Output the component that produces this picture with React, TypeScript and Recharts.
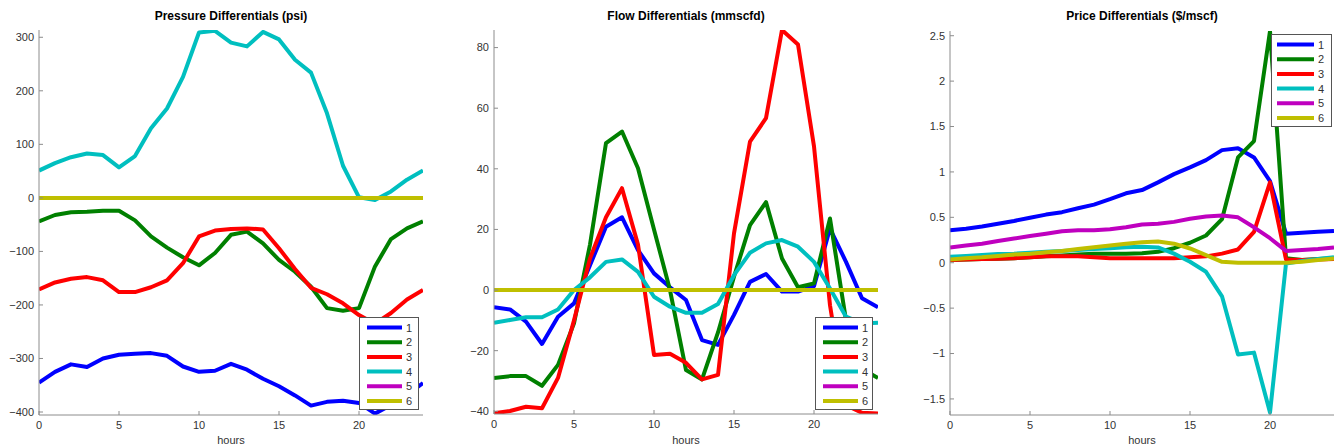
import React from 'react';
import { LineChart, Line, XAxis, YAxis } from 'recharts';

const hours = [0, 1, 2, 3, 4, 5, 6, 7, 8, 9, 10, 11, 12, 13, 14, 15, 16, 17, 18, 19, 20, 21, 22, 23, 24];
const seriesNames = ['1', '2', '3', '4', '5', '6'];
const seriesColors = ['#0000ff', '#008000', '#ff0000', '#00bfbf', '#bf00bf', '#bfbf00'];
const xTicks = [0, 5, 10, 15, 20];

// Pressure Differentials (psi)
const pressure1 = [-345, -325, -311, -316, -300, -293, -291, -290, -295, -315, -325, -323, -310, -321, -338, -352, -369, -388, -381, -379, -383, -403, -387, -368, -346];
const pressure2 = [-44, -32, -27, -26, -24, -24, -42, -72, -93, -111, -126, -103, -69, -63, -85, -116, -138, -166, -206, -211, -206, -128, -77, -57, -44];
const pressure3 = [-171, -158, -151, -148, -154, -176, -176, -167, -154, -122, -72, -61, -58, -57, -59, -94, -133, -168, -180, -197, -219, -235, -215, -190, -172];
const pressure4 = [51, 65, 76, 83, 80, 57, 78, 130, 167, 226, 309, 312, 290, 283, 310, 296, 258, 234, 158, 60, 1, -4, 12, 34, 51];
const pressure5 = [0, 0, 0, 0, 0, 0, 0, 0, 0, 0, 0, 0, 0, 0, 0, 0, 0, 0, 0, 0, 0, 0, 0, 0, 0];
const pressure6 = [0, 0, 0, 0, 0, 0, 0, 0, 0, 0, 0, 0, 0, 0, 0, 0, 0, 0, 0, 0, 0, 0, 0, 0, 0];
const pressureTicks = [-400, -300, -200, -100, 0, 100, 200, 300];

// Flow Differentials (mmscfd)
const flow1 = [-5.7, -6.4, -10.4, -17.8, -8.8, -4.4, 8.2, 20.9, 24, 13.2, 5.5, 0.9, -3.3, -16.5, -18.1, -8.2, 2.7, 5.3, -0.5, -0.5, 1.3, 20.3, 9.3, -2.7, -5.7];
const flow2 = [-29, -28.4, -28.4, -31.6, -24.7, -11, 15, 48.5, 52.3, 40.2, 20, 0, -26.4, -29.5, -14, 4.4, 21.4, 29, 10.4, 0.9, 2.2, 23.6, -10, -26, -29];
const flow3 = [-40.7, -39.9, -38.5, -39, -29, -10, 10.4, 24, 33.6, 15, -21.4, -21, -24, -29.5, -28, 18.7, 49, 56.7, 85.8, 81, 47.4, -5, -38, -40.5, -40.7];
const flow4 = [-10.8, -9.9, -9, -9, -6.4, 0, 4.2, 9.3, 10.1, 6, -2.2, -5.5, -7.5, -7.5, -4.6, 4.9, 12.3, 15.4, 16.5, 14.3, 9.3, 0.5, -8.8, -11, -10.8];
const flow5 = [0, 0, 0, 0, 0, 0, 0, 0, 0, 0, 0, 0, 0, 0, 0, 0, 0, 0, 0, 0, 0, 0, 0, 0, 0];
const flow6 = [0, 0, 0, 0, 0, 0, 0, 0, 0, 0, 0, 0, 0, 0, 0, 0, 0, 0, 0, 0, 0, 0, 0, 0, 0];
const flowTicks = [-40, -20, 0, 20, 40, 60, 80];

// Price Differentials ($/mscf)
const price1 = [0.357, 0.375, 0.4, 0.43, 0.46, 0.495, 0.53, 0.557, 0.6, 0.64, 0.7, 0.765, 0.8, 0.885, 0.976, 1.05, 1.13, 1.24, 1.26, 1.16, 0.9, 0.32, 0.33, 0.34, 0.35];
const price2 = [0.03, 0.035, 0.04, 0.045, 0.05, 0.06, 0.07, 0.08, 0.09, 0.1, 0.1, 0.1, 0.105, 0.12, 0.16, 0.22, 0.3, 0.48, 1.16, 1.34, 2.55, 0.05, 0.03, 0.04, 0.05];
const price3 = [0.03, 0.035, 0.04, 0.045, 0.05, 0.06, 0.07, 0.07, 0.07, 0.06, 0.05, 0.05, 0.05, 0.05, 0.05, 0.06, 0.07, 0.1, 0.146, 0.34, 0.885, 0.036, 0.03, 0.035, 0.04];
const price4 = [0.066, 0.075, 0.085, 0.095, 0.1, 0.11, 0.12, 0.13, 0.14, 0.15, 0.16, 0.17, 0.175, 0.168, 0.1, 0.01, -0.1, -0.37, -1.01, -0.99, -1.65, -0.01, 0.02, 0.04, 0.06];
const price5 = [0.168, 0.19, 0.21, 0.24, 0.266, 0.295, 0.32, 0.346, 0.357, 0.357, 0.368, 0.39, 0.42, 0.43, 0.45, 0.485, 0.51, 0.52, 0.5, 0.39, 0.27, 0.13, 0.14, 0.15, 0.168];
const price6 = [0.036, 0.05, 0.06, 0.075, 0.09, 0.1, 0.115, 0.13, 0.15, 0.17, 0.19, 0.21, 0.225, 0.233, 0.21, 0.157, 0.084, 0.01, 0, 0, 0, 0, 0.01, 0.03, 0.047];
const priceTicks = [-1.5, -1, -0.5, 0, 0.5, 1, 1.5, 2, 2.5];

const FONT = '"Liberation Sans", Arial, Helvetica, sans-serif';
const AXIS_COLOR = '#8c8c8c';
const TEXT_COLOR = '#333333';

const fmt = (v: number) => String(v).replace('-', '\u2212');

function buildRows(series: number[][]) {
  return hours.map((h, i) => {
    const row: Record<string, number> = { h };
    series.forEach((s, k) => {
      row['s' + (k + 1)] = s[i];
    });
    return row;
  });
}

type PanelProps = {
  title: string;
  series: number[][];
  domain: [number, number];
  ticks: number[];
  plotLeft: number;
  plotRight: number;
  plotTop: number;
  plotBottom: number;
  legend: { left: number; top: number; width: number; height: number; lineX1: number; lineX2: number; labelX: number };
};

function LegendBox({ legend }: { legend: PanelProps['legend'] }) {
  const rowH = 14.7;
  const firstRow = 9.5;
  return (
    <div
      style={{
        position: 'absolute',
        left: legend.left,
        top: legend.top,
        width: legend.width,
        height: legend.height,
        background: '#ffffff',
        border: '1px solid #555555',
        boxSizing: 'border-box',
      }}
    >
      <svg width={legend.width - 2} height={legend.height - 2} style={{ display: 'block' }}>
        {seriesNames.map((name, i) => {
          const y = firstRow + i * rowH;
          return (
            <g key={name}>
              <line x1={legend.lineX1} x2={legend.lineX2} y1={y} y2={y} stroke={seriesColors[i]} strokeWidth={4} />
              <text x={legend.labelX} y={y + 4} fontSize={11} fontFamily={FONT} fill={TEXT_COLOR}>
                {name}
              </text>
            </g>
          );
        })}
      </svg>
    </div>
  );
}

function Panel(p: PanelProps) {
  const yW = 50;
  const padR = 6;
  const plotW = p.plotRight - p.plotLeft;
  const W = plotW + yW + padR;
  const H = 447;
  const data = buildRows(p.series);
  const tickStyle = { fill: TEXT_COLOR, fontSize: 11, fontFamily: FONT };
  return (
    <div style={{ position: 'absolute', left: p.plotLeft - yW, top: 0, width: W, height: H }}>
      <div
        style={{
          position: 'absolute',
          left: yW,
          width: plotW,
          top: 9,
          textAlign: 'center',
          fontFamily: FONT,
          fontWeight: 'bold',
          fontSize: 12,
          lineHeight: '14px',
          color: '#000',
          whiteSpace: 'nowrap',
        }}
      >
        {p.title}
      </div>
      <LineChart width={W} height={H} data={data} margin={{ top: p.plotTop, right: padR, bottom: 0, left: 0 }}>
        <XAxis
          xAxisId="b"
          dataKey="h"
          type="number"
          domain={[0, 24]}
          ticks={xTicks}
          allowDataOverflow
          height={H - p.plotBottom}
          tickSize={-4}
          tickMargin={10}
          tick={tickStyle}
          stroke={AXIS_COLOR}
          axisLine={{ stroke: AXIS_COLOR }}
          tickLine={{ stroke: AXIS_COLOR }}
          label={{ value: 'hours', position: 'insideBottom', offset: 3, fill: TEXT_COLOR, fontSize: 11, fontFamily: FONT }}
        />
        <XAxis
          xAxisId="t"
          dataKey="h"
          type="number"
          orientation="top"
          domain={[0, 24]}
          ticks={xTicks}
          allowDataOverflow
          height={0}
          mirror
          tickSize={4}
          tick={false}
          axisLine={{ stroke: AXIS_COLOR }}
          tickLine={{ stroke: AXIS_COLOR }}
        />
        <YAxis
          yAxisId="l"
          type="number"
          domain={p.domain}
          ticks={p.ticks}
          allowDataOverflow
          width={yW}
          tickSize={-4}
          tickMargin={9}
          tick={tickStyle}
          tickFormatter={fmt}
          axisLine={{ stroke: AXIS_COLOR }}
          tickLine={{ stroke: AXIS_COLOR }}
          interval={0}
        />
        <YAxis
          yAxisId="r"
          type="number"
          orientation="right"
          domain={p.domain}
          ticks={p.ticks}
          allowDataOverflow
          width={0}
          mirror
          tickSize={4}
          tick={false}
          axisLine={{ stroke: AXIS_COLOR }}
          tickLine={{ stroke: AXIS_COLOR }}
          interval={0}
        />
        {seriesNames.map((name, i) => (
          <Line
            key={name}
            xAxisId="b"
            yAxisId="l"
            type="linear"
            dataKey={'s' + (i + 1)}
            name={name}
            stroke={seriesColors[i]}
            strokeWidth={4}
            dot={false}
            activeDot={false}
            isAnimationActive={false}
            strokeLinejoin="round"
          />
        ))}
      </LineChart>
      <LegendBox legend={{ ...p.legend, left: p.legend.left - (p.plotLeft - yW) }} />
    </div>
  );
}

export default function App() {
  return (
    <div style={{ position: 'absolute', left: 0, top: 0, width: 1340, height: 447, background: '#ffffff', overflow: 'hidden' }}>
      <Panel
        title="Pressure Differentials (psi)"
        series={[pressure1, pressure2, pressure3, pressure4, pressure5, pressure6]}
        domain={[-405.6, 313.6]}
        ticks={pressureTicks}
        plotLeft={39}
        plotRight={423}
        plotTop={30}
        plotBottom={415}
        legend={{ left: 359, top: 317, width: 60, height: 93, lineX1: 7, lineX2: 42, labelX: 46 }}
      />
      <Panel
        title="Flow Differentials (mmscfd)"
        series={[flow1, flow2, flow3, flow4, flow5, flow6]}
        domain={[-40.9, 85.8]}
        ticks={flowTicks}
        plotLeft={494}
        plotRight={878}
        plotTop={30}
        plotBottom={414}
        legend={{ left: 815, top: 317, width: 58, height: 93, lineX1: 7, lineX2: 42, labelX: 46 }}
      />
      <Panel
        title="Price Differentials ($/mscf)"
        series={[price1, price2, price3, price4, price5, price6]}
        domain={[-1.677, 2.552]}
        ticks={priceTicks}
        plotLeft={950}
        plotRight={1334}
        plotTop={31}
        plotBottom={415}
        legend={{ left: 1271, top: 34, width: 61, height: 93, lineX1: 5, lineX2: 42, labelX: 46 }}
      />
    </div>
  );
}
